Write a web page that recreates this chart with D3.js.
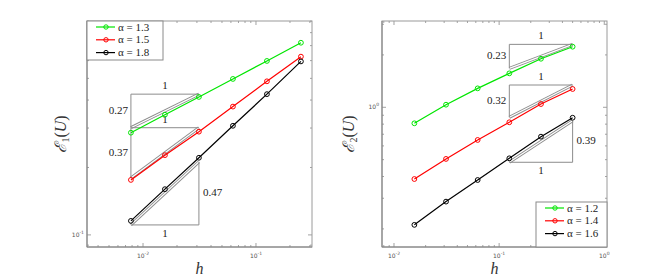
<!DOCTYPE html>
<html><head><meta charset="utf-8">
<script src="https://cdn.jsdelivr.net/npm/d3@7"></script>
<style>body{margin:0;background:#fff}svg{display:block}.sf{font-family:"Liberation Serif","DejaVu Serif",serif}</style>
</head><body>
<svg id="c" width="670" height="277"></svg>
<script>
// ---------- data ----------
const hLeft  = [1/128, 1/64, 1/32, 1/16, 1/8, 1/4];
const hRight = [1/64, 1/32, 1/16, 1/8, 1/4, 1/2];

const leftNames  = ["α = 1.3", "α = 1.5", "α = 1.8"];
const leftA13 = [0.286, 0.344, 0.413, 0.497, 0.598, 0.721];
const leftA15 = [0.176, 0.227, 0.289, 0.374, 0.485, 0.625];
const leftA18 = [0.1155, 0.160, 0.221, 0.307, 0.425, 0.595];

const rightNames = ["α = 1.2", "α = 1.4", "α = 1.6"];
const rightA12 = [0.809, 1.035, 1.285, 1.567, 1.901, 2.230];
const rightA14 = [0.387, 0.505, 0.649, 0.820, 1.044, 1.274];
const rightA16 = [0.211, 0.287, 0.382, 0.509, 0.678, 0.871];

const seriesColors = ["#00e600", "#ff0000", "#000000"];

// slope triangles: [h0, h1, yLow, yHigh, label]
const leftTriTop   = [[1/128, 1/32, 0.301, 0.425, "0.27"], [1/128, 1/32, 0.1795, 0.301, "0.37"]];
const leftTriBot   = [[1/128, 1/32, 0.1108, 0.212, "0.47"]];
const rightTriTop  = [[1/8, 1/2, 1.675, 2.30, "0.23"], [1/8, 1/2, 0.876, 1.343, "0.32"]];
const rightTriBot  = [[1/8, 1/2, 0.483, 0.838, "0.39"]];

// axis limits (exponents of 10)
const leftXLim  = [-2.496, -0.504];
const leftYLim  = [-1.054, -0.045];
const rightXLim = [-2.114, 0.026];
const rightYLim = [-0.803, 0.496];

// ---------- drawing ----------
const svg = d3.select("#c");

function supLabel(g, x, y, exp, anchor) {
  const t = g.append("text").attr("x", x).attr("y", y)
    .attr("text-anchor", anchor).attr("font-family", "DejaVu Sans, sans-serif")
    .attr("font-size", 6).attr("fill", "#555");
  t.append("tspan").text("10");
  t.append("tspan").attr("dy", -3).attr("font-size", 4.5).text(exp);
}

function stext(g) { return g.append("text").attr("class", "sf").attr("fill", "#222"); }

function panel(box, xLim, yLim, hs, series, names, triTop, triBot, yLabelSub, legendPos, yLabOff) {
  const [x0, y0, x1, y1] = box;
  const xs = d3.scaleLog().domain(xLim.map(v => Math.pow(10, v))).range([x0, x1]);
  const ys = d3.scaleLog().domain(yLim.map(v => Math.pow(10, v))).range([y1, y0]);
  const g = svg.append("g");

  const tickCol = "#8a8a8a";
  function ticksFor(lim) {
    const out = [];
    for (let k = Math.floor(lim[0]); k <= Math.ceil(lim[1]); k++)
      for (let m = 1; m <= 9; m++) {
        const v = m * Math.pow(10, k);
        const lv = Math.log10(v);
        if (lv >= lim[0] && lv <= lim[1]) out.push({v, major: m === 1, k});
      }
    return out;
  }
  ticksFor(xLim).forEach(t => {
    const x = xs(t.v), L = t.major ? 4 : 2;
    g.append("line").attr("x1", x).attr("x2", x).attr("y1", y1).attr("y2", y1 - L).attr("stroke", tickCol).attr("stroke-width", 0.8);
    g.append("line").attr("x1", x).attr("x2", x).attr("y1", y0).attr("y2", y0 + L).attr("stroke", tickCol).attr("stroke-width", 0.8);
    if (t.major) supLabel(g, x, y1 + 11, String(t.k), "middle");
  });
  ticksFor(yLim).forEach(t => {
    const y = ys(t.v), L = t.major ? 4 : 2;
    g.append("line").attr("y1", y).attr("y2", y).attr("x1", x0).attr("x2", x0 + L).attr("stroke", tickCol).attr("stroke-width", 0.8);
    g.append("line").attr("y1", y).attr("y2", y).attr("x1", x1).attr("x2", x1 - L).attr("stroke", tickCol).attr("stroke-width", 0.8);
    if (t.major) supLabel(g, x0 - 3, y + 2, String(t.k), "end");
  });

  g.append("rect").attr("x", x0).attr("y", y0).attr("width", x1 - x0).attr("height", y1 - y0)
    .attr("fill", "none").attr("stroke", "#9a9a9a").attr("stroke-width", 1);
  g.append("path").attr("d", `M${x0},${y0}V${y1}H${x1}`).attr("fill", "none").attr("stroke", "#808080").attr("stroke-width", 1);

  const triCol = "#8c8c8c";
  function hyp(xa, ya, xb, yb) {
    g.append("line").attr("x1", xa).attr("y1", ya).attr("x2", xb).attr("y2", yb).attr("stroke", triCol).attr("stroke-width", 3);
    g.append("line").attr("x1", xa).attr("y1", ya).attr("x2", xb).attr("y2", yb).attr("stroke", "#fff").attr("stroke-width", 1.2);
  }
  triTop.forEach(t => {
    const xa = xs(t[0]), xb = xs(t[1]), yl = ys(t[2]), yh = ys(t[3]);
    hyp(xa, yl, xb, yh);
    g.append("path").attr("d", `M${xb},${yh}H${xa}V${yl}`).attr("fill", "none").attr("stroke", triCol).attr("stroke-width", 1);
    stext(g).attr("x", (xa + xb) / 2).attr("y", yh - 5).attr("text-anchor", "middle").attr("font-size", 11).text("1");
    stext(g).attr("x", xa - 3).attr("y", (yl + yh) / 2 + 3).attr("text-anchor", "end").attr("font-size", 11).text(t[4]);
  });
  triBot.forEach(t => {
    const xa = xs(t[0]), xb = xs(t[1]), yl = ys(t[2]), yh = ys(t[3]);
    hyp(xa, yl, xb, yh);
    g.append("path").attr("d", `M${xa},${yl}H${xb}V${yh}`).attr("fill", "none").attr("stroke", triCol).attr("stroke-width", 1);
    stext(g).attr("x", (xa + xb) / 2).attr("y", yl + 12).attr("text-anchor", "middle").attr("font-size", 11).text("1");
    stext(g).attr("x", xb + 4).attr("y", (yl + yh) / 2 + 3).attr("text-anchor", "start").attr("font-size", 11).text(t[4]);
  });

  const line = d3.line().x((d, i) => xs(hs[i])).y(d => ys(d));
  series.forEach((s, si) => {
    g.append("path").datum(s).attr("d", line).attr("fill", "none").attr("stroke", seriesColors[si]).attr("stroke-width", 1.2);
    g.selectAll(null).data(s).enter().append("circle")
      .attr("cx", (d, i) => xs(hs[i])).attr("cy", d => ys(d)).attr("r", 2.4)
      .attr("fill", "none").attr("stroke", seriesColors[si]).attr("stroke-width", 1);
  });

  const [lx, ly, lw, lh] = legendPos;
  g.append("rect").attr("x", lx).attr("y", ly).attr("width", lw).attr("height", lh)
    .attr("fill", "#fff").attr("stroke", "#8a8a8a").attr("stroke-width", 1);
  names.forEach((n, i) => {
    const yy = ly + 6 + i * 12.8;
    g.append("line").attr("x1", lx + 9).attr("x2", lx + 28).attr("y1", yy).attr("y2", yy).attr("stroke", seriesColors[i]).attr("stroke-width", 1.2);
    g.append("circle").attr("cx", lx + 19).attr("cy", yy).attr("r", 2.2).attr("fill", "none").attr("stroke", seriesColors[i]).attr("stroke-width", 1);
    stext(g).attr("x", lx + 31).attr("y", yy + 3.5).attr("font-size", 11).text(n);
  });

  stext(g).attr("x", (x0 + x1) / 2).attr("y", 274).attr("text-anchor", "middle")
    .attr("font-style", "italic").attr("font-size", 16).attr("fill", "#333").text("h");
  const yl = stext(g).attr("transform", `translate(${x0 - yLabOff},${(y0 + y1) / 2}) rotate(-90)`)
    .attr("text-anchor", "middle").attr("font-size", 16).attr("fill", "#333");
  yl.append("tspan").attr("font-style", "italic").text("ℰ");
  yl.append("tspan").attr("dy", 3).attr("font-size", 10).text(yLabelSub);
  yl.append("tspan").attr("dy", -3).text("(");
  yl.append("tspan").attr("font-style", "italic").text("U");
  yl.append("tspan").text(")");
}

panel([87, 21, 312, 247], leftXLim, leftYLim, hLeft, [leftA13, leftA15, leftA18], leftNames,
      leftTriTop, leftTriBot, "1", [87, 21, 76, 39], 21);
panel([382, 21, 607, 247], rightXLim, rightYLim, hRight, [rightA12, rightA14, rightA16], rightNames,
      rightTriTop, rightTriBot, "2", [536, 202, 71, 45], 28);
</script>
</body></html>
